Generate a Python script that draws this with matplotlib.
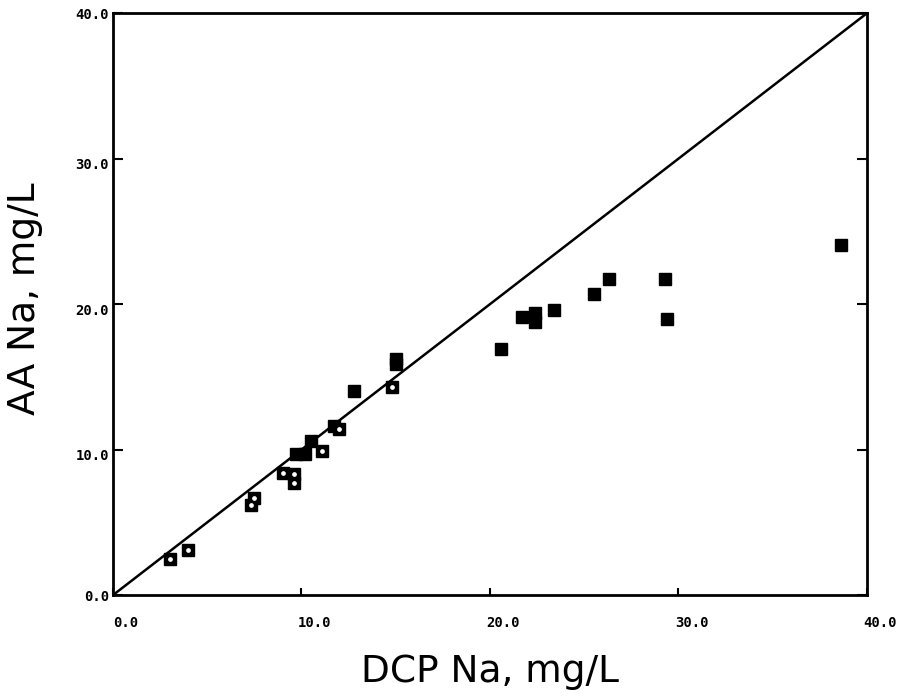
import numpy as np
import matplotlib
matplotlib.use("Agg")
import matplotlib.pyplot as plt
import matplotlib.transforms as mtransforms

# DCP vs AA sodium results (mg/L)
dcp_open = [3.0, 4.0, 7.3, 7.5, 9.0, 9.6, 9.6, 11.1, 12.0, 14.8]
aa_open = [2.5, 3.1, 6.2, 6.7, 8.4, 8.3, 7.7, 9.9, 11.4, 14.3]

dcp_filled = [9.7, 10.2, 10.5, 11.7, 12.8, 15.0, 15.0,
              20.6, 21.7, 22.4, 22.4, 23.4, 25.5, 26.3, 29.3, 29.4, 38.6]
aa_filled = [9.7, 9.7, 10.6, 11.6, 14.0, 16.2, 15.9,
             16.9, 19.1, 19.4, 18.8, 19.6, 20.7, 21.7, 21.7, 19.0, 24.1]

ticks = [0, 10, 20, 30, 40]
tick_labels = ["0.0", "10.0", "20.0", "30.0", "40.0"]

fig = plt.figure(figsize=(9.04, 6.96), dpi=100)
ax = fig.add_axes([0.125, 0.145, 0.834, 0.836])

# 1:1 line
ax.plot([0, 40], [0, 40], color="black", lw=1.8, zorder=2)

ax.plot(dcp_filled, aa_filled, "s", ms=8, mfc="black", mec="black", zorder=3)
ax.plot(dcp_open, aa_open, "s", ms=8, mfc="black", mec="black", zorder=3)
ax.plot(dcp_open, aa_open, "o", ms=2.4, mfc="white", mec="white", zorder=4)

ax.set_xlim(0, 40)
ax.set_ylim(0, 40)
for s in ax.spines.values():
    s.set_linewidth(2)

ax.set_xticks(ticks)
ax.set_xticklabels(tick_labels)
ax.set_yticks(ticks)
ax.set_yticklabels(tick_labels)
ax.tick_params(axis="x", direction="in", length=5, width=1.5, pad=15)
ax.tick_params(axis="y", direction="in", length=7, width=1.5, pad=3,
               right=True)
for lab in ax.get_xticklabels() + ax.get_yticklabels():
    lab.set_fontfamily("DejaVu Sans Mono")
    lab.set_fontweight("bold")
    lab.set_fontsize(10)

# labels sit a little right of the x ticks, a little below the y ticks
shift_x = mtransforms.ScaledTranslation(13 / 100, 0, fig.dpi_scale_trans)
for lab in ax.get_xticklabels():
    lab.set_transform(lab.get_transform() + shift_x)
shift_y = mtransforms.ScaledTranslation(0, -5 / 100, fig.dpi_scale_trans)
for lab in ax.get_yticklabels()[1:-1]:
    lab.set_transform(lab.get_transform() + shift_y)

ax.set_xlabel("DCP Na, mg/L", fontsize=27)
ax.set_ylabel("AA Na, mg/L", fontsize=27)
ax.xaxis.set_label_coords(0.5, -0.102)
ax.yaxis.set_label_coords(-0.093, 0.51)

fig.savefig("out.png", dpi=100)
